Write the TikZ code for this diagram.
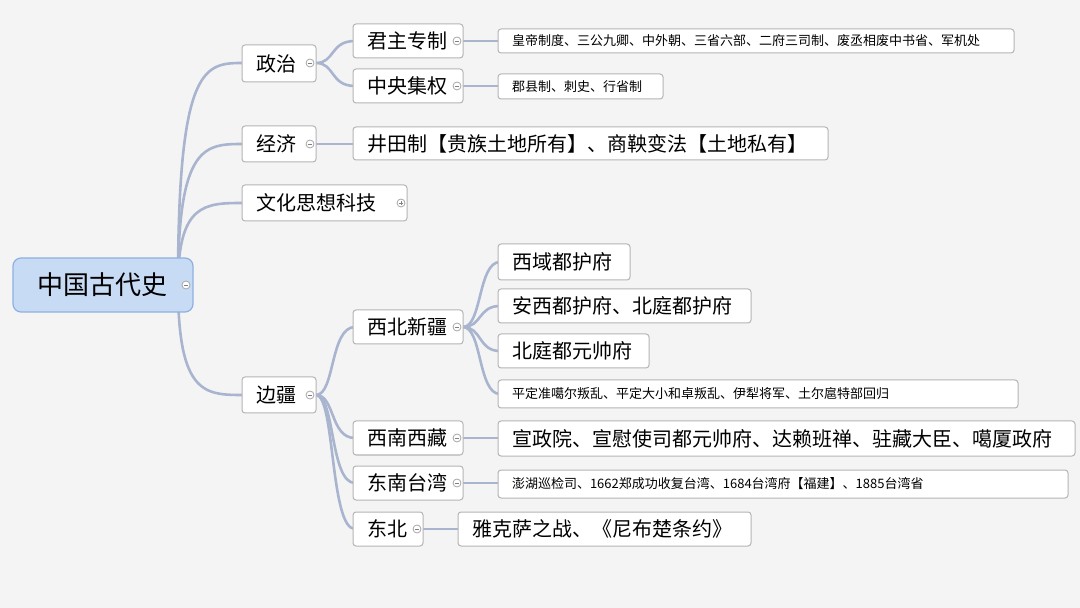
\documentclass[tikz,border=0pt]{standalone}
\usepackage{fontspec}
\newfontfamily\cjk{Noto Sans CJK SC}
\definecolor{bg}{HTML}{F4F4F4}
\definecolor{ln}{HTML}{A9B5CF}
\definecolor{bd}{HTML}{B5B5B5}
\definecolor{rootf}{HTML}{C7DBF5}
\definecolor{rootb}{HTML}{8EB0E0}
\tikzset{x=0.5pt,y=-0.5pt,
 box/.style={draw=bd,fill=white,rounded corners=1.5pt,inner ysep=0pt,inner xsep=7pt,align=left,font=\cjk\fontsize{10}{12}\selectfont,line width=0.5pt},
 small/.style={box,font=\cjk\fontsize{6.5}{8}\selectfont},
 rootbox/.style={box,draw=rootb,fill=rootf,rounded corners=4pt,inner xsep=12pt,font=\cjk\fontsize{13}{15}\selectfont,line width=0.6pt},
 con/.style={draw=ln,line width=1.3pt},
 btn/.style={circle,draw=gray!70,fill=white,inner sep=0pt,minimum size=4pt,line width=0.4pt}}
\newcommand\bx[7]{\node[#7, text width={(#4-#2)*0.5pt-2*\pgfkeysvalueof{/pgf/inner xsep}}, minimum height={(#5-#3)*0.5pt}] (#1) at ({(#2+#4)/2},{(#3+#5)/2}) {#6};}
\newcommand\mb[2]{\node[btn] (#1b) at (#2) {}; \draw[gray,line width=0.4pt] ([xshift=-1.2pt]#1b.center)--([xshift=1.2pt]#1b.center);}
\begin{document}
\begin{tikzpicture}
\fill[bg] (0,0) rectangle (1080,608);
\useasboundingbox (0,0) rectangle (1080,608);
\coordinate (rp) at (178,285);
\foreach \y in {63,144,203,395}{\draw[con] (rp) .. controls (178,\y) and (205,\y) .. (244,\y);}
\coordinate (zz) at (316,63);
\foreach \y in {41,86}{\draw[con] (zz) .. controls (335,63) and (330,\y) .. (355,\y);}
\draw[con] (316,144) -- (355,144);
\coordinate (bj) at (316,395);
\foreach \y in {327,438,483,529}{\draw[con] (bj) .. controls (335,395) and (330,\y) .. (355,\y);}
\draw[con] (463,41) -- (500,41);
\draw[con] (463,86) -- (500,86);
\coordinate (xb) at (463,327);
\foreach \y in {262,306,351,394}{\draw[con] (xb) .. controls (482,327) and (478,\y) .. (500,\y);}
\draw[con] (463,438) -- (500,438);
\draw[con] (463,483) -- (500,483);
\draw[con] (423,529) -- (460,529);
\bx{root}{13}{258}{193}{312}{中国古代史}{rootbox}
\bx{zz}{242}{45}{316}{82}{政治}{box}
\bx{jj}{242}{126}{316}{162}{经济}{box}
\bx{wh}{242}{185}{407}{221}{文化思想科技}{box}
\bx{bj}{242}{377}{316}{413}{边疆}{box}
\bx{jz}{353}{24}{463}{58}{君主专制}{box}
\bx{zy}{353}{69}{463}{103}{中央集权}{box}
\bx{l1}{498}{29}{1014}{53}{皇帝制度、三公九卿、中外朝、三省六部、二府三司制、废丞相废中书省、军机处}{small}
\bx{l2}{498}{74}{663}{99}{郡县制、刺史、行省制}{small}
\bx{l3}{353}{127}{828}{160}{井田制【贵族土地所有】、商鞅变法【土地私有】}{box}
\bx{xb}{353}{310}{463}{344}{西北新疆}{box}
\bx{xn}{353}{421}{463}{455}{西南西藏}{box}
\bx{dn}{353}{466}{463}{500}{东南台湾}{box}
\bx{db}{353}{512}{423}{546}{东北}{box}
\bx{x1}{498}{244}{630}{280}{西域都护府}{box}
\bx{x2}{498}{289}{751}{323}{安西都护府、北庭都护府}{box}
\bx{x3}{498}{334}{649}{368}{北庭都元帅府}{box}
\bx{x4}{498}{380}{1018}{408}{平定准噶尔叛乱、平定大小和卓叛乱、伊犁将军、土尔扈特部回归}{small}
\bx{n1}{498}{421}{1075}{456}{宣政院、宣慰使司都元帅府、达赖班禅、驻藏大臣、噶厦政府}{box}
\bx{d1}{498}{470}{1068}{498}{澎湖巡检司、1662郑成功收复台湾、1684台湾府【福建】、1885台湾省}{small}
\bx{e1}{458}{512}{751}{546}{雅克萨之战、《尼布楚条约》}{box}
\mb{root}{186,285}
\mb{zz}{310,63}
\mb{jj}{310,144}
\mb{bj}{310,395}
\mb{jz}{457,41}
\mb{zy}{457,86}
\mb{xb}{457,327}
\mb{xn}{457,438}
\mb{dn}{457,483}
\mb{db}{417,529}
\node[btn] (whb) at (401,203) {};
\draw[gray,line width=0.4pt] ([xshift=-1.2pt]whb.center)--([xshift=1.2pt]whb.center) ([yshift=-1.2pt]whb.center)--([yshift=1.2pt]whb.center);
\end{tikzpicture}
\end{document}
